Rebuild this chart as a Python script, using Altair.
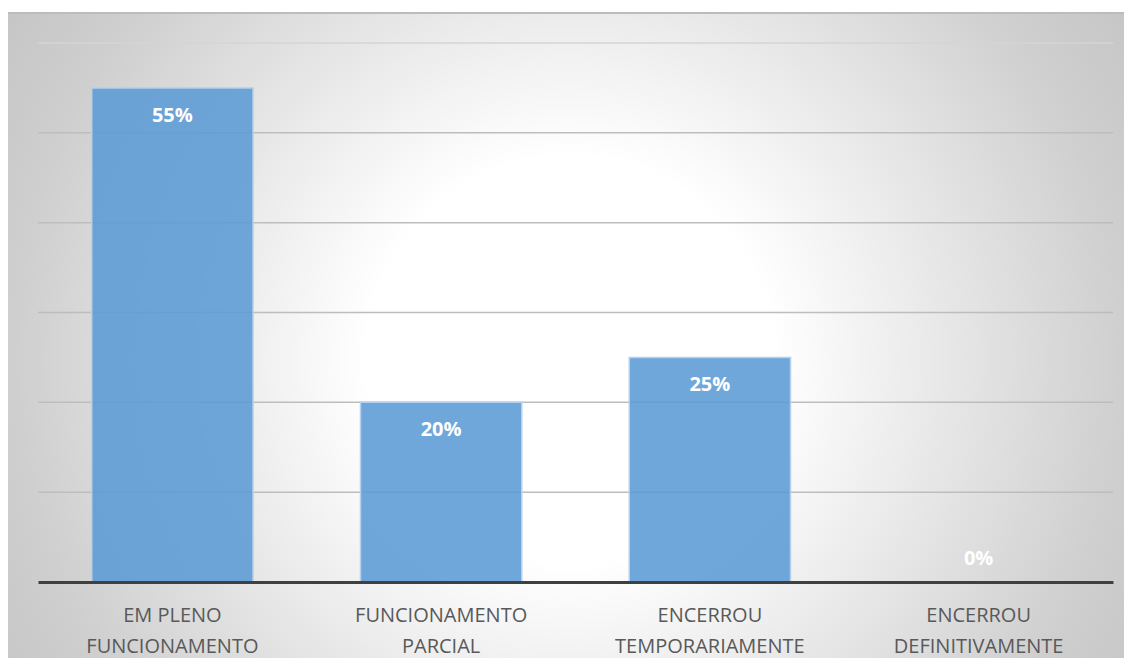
import altair as alt
import pandas as pd

categories = ["EM PLENO FUNCIONAMENTO", "FUNCIONAMENTO PARCIAL",
              "ENCERROU TEMPORARIAMENTE", "ENCERROU DEFINITIVAMENTE"]
values = [55, 20, 25, 0]
labels = ["55%", "20%", "25%", "0%"]
grid_values = [10, 20, 30, 40, 50, 60]

W, H = 1075, 539

df = pd.DataFrame({"cat": categories, "val": values, "label": labels})
grid_df = pd.DataFrame({"g": grid_values})
one = pd.DataFrame({"k": [0]})

y_scale = alt.Scale(domain=[0, 60], nice=False)
x_enc = alt.X(
    "cat:N", sort=categories,
    scale=alt.Scale(paddingInner=0.4, paddingOuter=0.2),
    axis=alt.Axis(
        title=None, labelAngle=0, ticks=False, tickSize=0,
        domainColor="#404040", domainWidth=3,
        labelFont="Open Sans", labelFontSize=20, labelColor="#595959",
        labelLineHeight=31, labelPadding=23, labelLimit=400,
        labelExpr="[slice(datum.label, 0, lastindexof(datum.label, ' ')), slice(datum.label, lastindexof(datum.label, ' ') + 1)]",
        zindex=1,
    ),
)

cx, cy, R = 532, 317, 700
grad = {
    "gradient": "radial",
    "x1": 0.5, "y1": 0.5, "r1": 0,
    "x2": 0.5, "y2": 0.5, "r2": 0.5,
    "stops": [
        {"offset": 0, "color": "#ffffff"},
        {"offset": 0.29, "color": "#ffffff"},
        {"offset": 0.79, "color": "#cfcfcf"},
        {"offset": 0.94, "color": "#c6c6c6"},
        {"offset": 1, "color": "#c4c4c4"},
    ],
}

bg = alt.Chart(one).mark_rect(color=grad, strokeWidth=0).encode(
    x=alt.value(cx - R), x2=alt.value(cx + R),
    y=alt.value(cy - R), y2=alt.value(cy + R),
)
strip = alt.Chart(one).mark_rect(color="white", strokeWidth=0).encode(
    x=alt.value(-40), x2=alt.value(1100), y=alt.value(-40), y2=alt.value(-31)
)
border = alt.Chart(one).mark_rule(color="#bcbcbc", strokeWidth=2).encode(
    x=alt.value(-30), x2=alt.value(1100), y=alt.value(-30)
)

grid = alt.Chart(grid_df).mark_rule(strokeWidth=1.5).encode(
    y=alt.Y("g:Q", scale=y_scale, axis=None),
    color=alt.condition("datum.g == 60", alt.value("#d4d4d4"), alt.value("#bdbdbd")),
)

bars = alt.Chart(df).mark_bar(
    fill="#5b9bd5", fillOpacity=0.88, stroke="#b4d0ec", strokeWidth=1.5
).encode(
    x=x_enc,
    y=alt.Y("val:Q", scale=y_scale, axis=None),
)

text_in = alt.Chart(df).transform_filter("datum.val > 0").mark_text(
    font="Open Sans", fontSize=20, fontWeight="bold", color="white",
    baseline="middle", dy=28,
).encode(x=x_enc, y=alt.Y("val:Q", scale=y_scale, axis=None), text="label:N")

text_zero = alt.Chart(df).transform_filter("datum.val <= 0").mark_text(
    font="Open Sans", fontSize=20, fontWeight="bold", color="white",
    baseline="middle", dy=-23,
).encode(x=x_enc, y=alt.Y("val:Q", scale=y_scale, axis=None), text="label:N")

chart = alt.layer(bg, strip, border, grid, bars, text_in, text_zero).properties(
    width=W, height=H, autosize="none",
    padding={"left": 30, "top": 35, "right": 11, "bottom": 76},
).configure_view(stroke=None)

chart.save("out.html", embed_options={"renderer": "svg", "actions": False})
